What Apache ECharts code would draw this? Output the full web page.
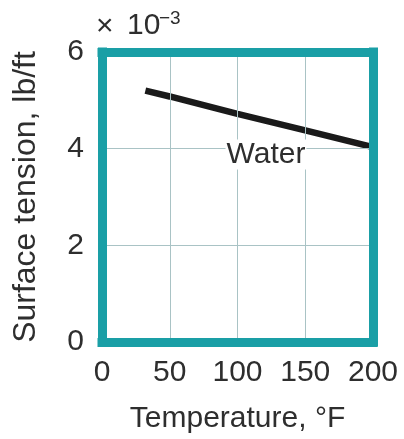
<!DOCTYPE html>
<html>
<head>
<meta charset="utf-8">
<script src="https://cdn.jsdelivr.net/npm/echarts@6/dist/echarts.min.js"></script>
<style>
  html, body { margin: 0; padding: 0; background: #fff; }
  #main { width: 404px; height: 439px; }
</style>
</head>
<body>
<div id="main"></div>
<script>
// temperature (°F) and surface tension (x 10^-3 lb/ft)
const temps = [32, 50, 100, 150, 200];
const tension = [5.2, 5.08, 4.72, 4.38, 4.03];
const xTicks = [0, 50, 100, 150, 200];
const yTicks = [0, 2, 4, 6];
const waterLabel = [121, 3.88];

const FONT = "'Liberation Sans', Arial, sans-serif";
const TEAL = '#1a9fa6';
const TXT = '#2e2e2e';
const GRIDC = '#a9c3c5';

const chart = echarts.init(document.getElementById('main'));

const frameLine = { show: true, onZero: false, lineStyle: { color: TEAL, width: 9, cap: 'square' } };

const option = {
  animation: false,
  textStyle: { fontFamily: FONT },
  grid: { left: 102, right: 31, top: 52, bottom: 96 },
  xAxis: [{
    type: 'value', position: 'bottom', z: 5,
    min: xTicks[0], max: xTicks[xTicks.length - 1], interval: 50,
    name: 'Temperature, °F',
    nameLocation: 'middle',
    nameGap: 62,
    nameTextStyle: { fontSize: 30, color: TXT, fontFamily: FONT },
    axisLine: frameLine,
    axisTick: { show: false },
    axisLabel: { fontSize: 30, color: TXT, margin: 16, fontFamily: FONT },
    splitLine: { showMinLine: false, showMaxLine: false, lineStyle: { color: GRIDC, width: 1 } }
  }, {
    // top side of the frame
    type: 'value', position: 'top', z: 5,
    min: xTicks[0], max: xTicks[xTicks.length - 1],
    axisLine: frameLine,
    axisTick: { show: false }, axisLabel: { show: false }, splitLine: { show: false }
  }],
  yAxis: [{
    type: 'value', position: 'left', z: 5,
    min: yTicks[0], max: yTicks[yTicks.length - 1], interval: 2,
    name: 'Surface tension, lb/ft',
    nameLocation: 'middle',
    nameGap: 60,
    nameTextStyle: { fontSize: 32, color: TXT, fontFamily: FONT },
    axisLine: frameLine,
    axisTick: { show: false },
    axisLabel: { fontSize: 30, color: TXT, margin: 18, fontFamily: FONT },
    splitLine: { showMinLine: false, showMaxLine: false, lineStyle: { color: GRIDC, width: 1 } }
  }, {
    // right side of the frame
    type: 'value', position: 'right', z: 5,
    min: yTicks[0], max: yTicks[yTicks.length - 1],
    axisLine: frameLine,
    axisTick: { show: false }, axisLabel: { show: false }, splitLine: { show: false }
  }],
  graphic: [
    { type: 'text', left: 96, top: 12, style: { text: '×', fill: TXT, font: '30px ' + FONT } },
    { type: 'text', left: 127, top: 11, style: { text: '10', fill: TXT, font: '30px ' + FONT } },
    { type: 'text', left: 159, top: 9, style: { text: '−3', fill: TXT, font: '19px ' + FONT } }
  ],
  series: [{
    type: 'line',
    data: temps.map((t, i) => [t, tension[i]]),
    showSymbol: false,
    lineStyle: { color: '#1a1a1a', width: 6.5 },
    z: 3,
    markPoint: {
      symbol: 'circle', symbolSize: 0,
      label: {
        show: true, formatter: 'Water', position: 'inside',
        fontSize: 30, color: TXT, fontFamily: FONT,
        backgroundColor: '#fff', padding: [0, 1]
      },
      data: [{ coord: waterLabel }]
    }
  }]
};

chart.setOption(option);
</script>
</body>
</html>
